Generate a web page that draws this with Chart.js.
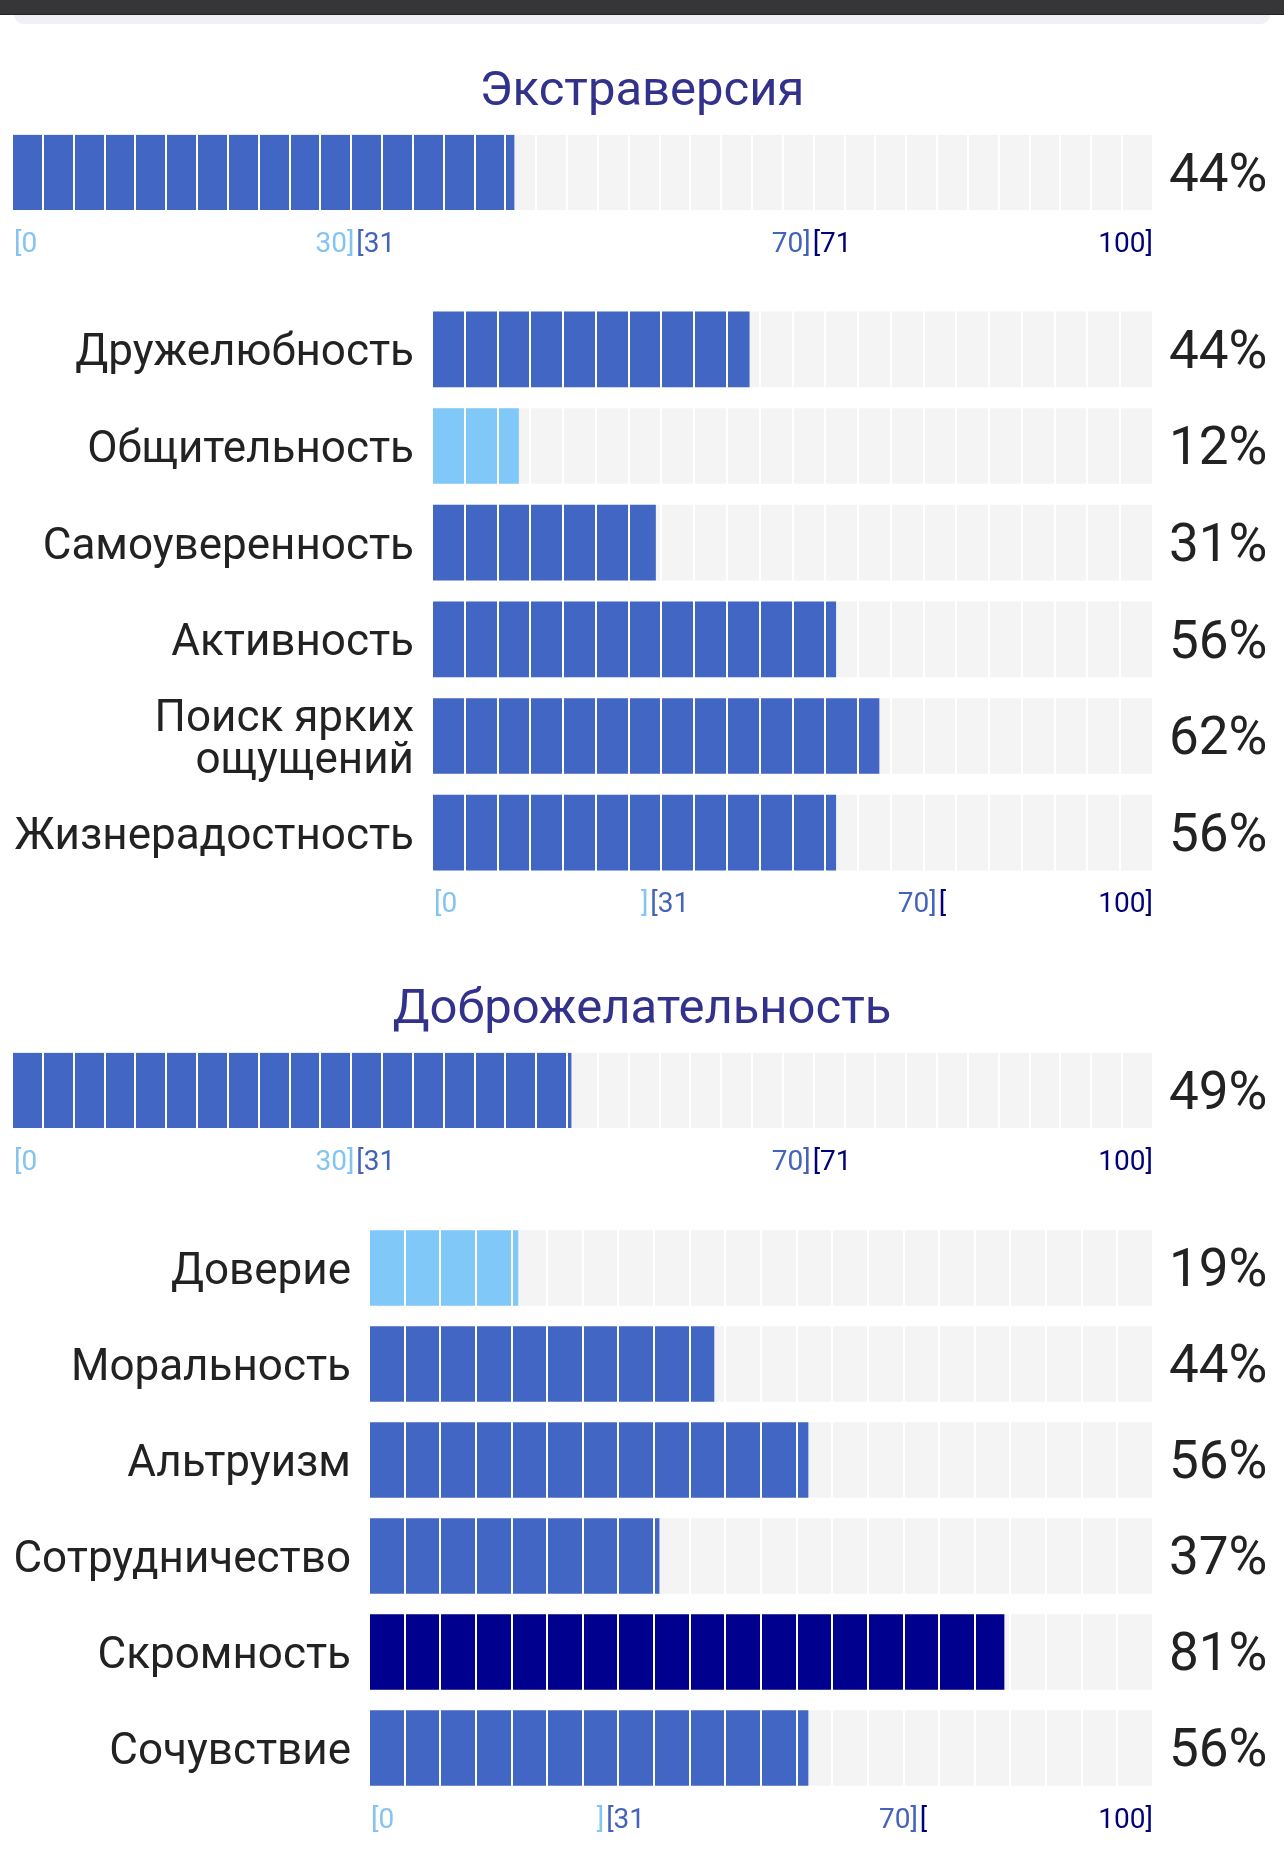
<!DOCTYPE html>
<html lang="ru">
<head>
<meta charset="utf-8">
<title>Экстраверсия и Доброжелательность</title>
<script src="https://cdn.jsdelivr.net/npm/chart.js@4.4.1/dist/chart.umd.min.js"></script>
<style>
  html, body { margin: 0; padding: 0; background: #fff; }
  body { width: 1284px; height: 1860px; position: relative; overflow: hidden; font-family: Roboto, sans-serif; }
  .topbar { position: absolute; left: 0; top: 0; width: 1284px; height: 14px; background: #363638; border-bottom: 1px solid #222; }
  .strip { position: absolute; left: 14px; top: 15px; width: 1256px; height: 9px; background: #f0f0f6; border-radius: 0 0 14px 14px; }
  .box { position: absolute; left: 0; width: 1284px; }
</style>
</head>
<body>
<div class="topbar"></div>
<div class="strip"></div>
<div class="box" style="top:30px;height:230px"><canvas id="extTotal"></canvas></div>
<div class="box" style="top:301px;height:630px"><canvas id="extFacets"></canvas></div>
<div class="box" style="top:948px;height:230px"><canvas id="agrTotal"></canvas></div>
<div class="box" style="top:1220px;height:626px"><canvas id="agrFacets"></canvas></div>
<script>
// данные
const extTitle = 'Экстраверсия';
const extTotal = [44];
const extFacets = ['Дружелюбность', 'Общительность', 'Самоуверенность', 'Активность', ['Поиск ярких', 'ощущений'], 'Жизнерадостность'];
const extValues = [44, 12, 31, 56, 62, 56];

const agrTitle = 'Доброжелательность';
const agrTotal = [49];
const agrFacets = ['Доверие', 'Моральность', 'Альтруизм', 'Сотрудничество', 'Скромность', 'Сочувствие'];
const agrValues = [19, 44, 56, 37, 81, 56];

// шкала: границы зон и подписи
const bandEdges = [0, 30, 70, 100];
const totalTickEnds = ['', '30]', '70]', '100]'];
const totalTickStarts = ['[0', '[31', '[71', ''];
const facetTickEnds = ['', ']', '70]', '100]'];
const facetTickStarts = ['[0', '[31', '[', ''];
const totalSegments = 37;
const facetSegments = 22;

const bandColors = ['#80c8f8', '#4266c4', '#00008e'];
const tickColors = ['#84c4f0', '#4464bc', '#00007a'];
const font = 'Roboto';

function bandOf(v) {
    return v <= 30 ? 0 : (v <= 70 ? 1 : 2);
}

const bracketPlugin = {
    id: 'brackets',
    afterDraw(chart, args, o) {
        const x = chart.scales.x;
        const ctx = chart.ctx;
        let bottom = 0;
        chart.getDatasetMeta(0).data.forEach((b) => {
            bottom = Math.max(bottom, b.y + b.height / 2);
        });
        const y = bottom + o.gap;
        ctx.save();
        ctx.font = '28px ' + font;
        ctx.textBaseline = 'middle';
        bandEdges.forEach((edge, i) => {
            const px = x.getPixelForValue(edge);
            if (o.ends[i]) {
                ctx.textAlign = 'right';
                ctx.fillStyle = tickColors[i - 1];
                ctx.fillText(o.ends[i], px, y);
            }
            if (o.starts[i]) {
                ctx.textAlign = 'left';
                ctx.fillStyle = tickColors[i];
                ctx.fillText(o.starts[i], px + 2, y);
            }
        });
        ctx.restore();
    }
};

function noPad(s, width) {
    s.width = width;
    s.paddingTop = 0;
    s.paddingBottom = 0;
}

function makeChart(id, cfg) {
    const track = cfg.values.map(() => 100);
    const hasNames = cfg.leftWidth > 12;
    return new Chart(document.getElementById(id), {
        type: 'bar',
        data: {
            labels: cfg.labels,
            datasets: [
                {
                    data: cfg.values,
                    backgroundColor: cfg.values.map((v) => bandColors[bandOf(v)]),
                    grouped: false,
                    order: 0,
                    barThickness: 75
                },
                {
                    data: track,
                    backgroundColor: '#f4f4f4',
                    grouped: false,
                    order: 1,
                    barThickness: 75
                }
            ]
        },
        options: {
            indexAxis: 'y',
            responsive: true,
            maintainAspectRatio: false,
            animation: false,
            events: [],
            layout: { padding: { left: 0, right: 0, top: 0, bottom: 50 } },
            plugins: {
                legend: { display: false },
                tooltip: { enabled: false },
                title: cfg.title ? {
                    display: true,
                    text: cfg.title,
                    color: '#32328c',
                    font: { family: font, size: 49, weight: 'normal' },
                    padding: { top: 33, bottom: 13 }
                } : { display: false },
                brackets: { ends: cfg.ends, starts: cfg.starts, gap: 35 }
            },
            scales: {
                x: {
                    min: 0,
                    max: 100,
                    border: { display: false },
                    ticks: { display: false },
                    grid: { color: '#ffffff', lineWidth: 2, drawTicks: false, z: 1 },
                    afterBuildTicks: (s) => {
                        s.ticks = Array.from({ length: cfg.segments + 1 }, (_, i) => ({ value: i * 100 / cfg.segments }));
                    },
                    afterFit: (s) => { s.height = 0; }
                },
                y: {
                    border: { display: false },
                    grid: { display: false, drawTicks: false },
                    ticks: {
                        display: hasNames,
                        color: '#222',
                        padding: 18,
                        labelOffset: 5,
                        font: { family: font, size: 44, lineHeight: 0.95 }
                    },
                    afterFit: (s) => noPad(s, cfg.leftWidth)
                },
                y2: {
                    type: 'category',
                    position: 'right',
                    offset: true,
                    labels: cfg.values.map((v) => v + '%'),
                    border: { display: false },
                    grid: { display: false, drawTicks: false },
                    ticks: {
                        color: '#222',
                        padding: 16,
                        labelOffset: 5,
                        font: { family: font, size: 53 }
                    },
                    afterFit: (s) => noPad(s, 131)
                }
            }
        },
        plugins: [bracketPlugin]
    });
}

makeChart('extTotal', {
    labels: [extTitle], values: extTotal, title: extTitle, leftWidth: 12,
    segments: totalSegments, ends: totalTickEnds, starts: totalTickStarts
});
makeChart('extFacets', {
    labels: extFacets, values: extValues, leftWidth: 432,
    segments: facetSegments, ends: facetTickEnds, starts: facetTickStarts
});
makeChart('agrTotal', {
    labels: [agrTitle], values: agrTotal, title: agrTitle, leftWidth: 12,
    segments: totalSegments, ends: totalTickEnds, starts: totalTickStarts
});
makeChart('agrFacets', {
    labels: agrFacets, values: agrValues, leftWidth: 369,
    segments: facetSegments, ends: facetTickEnds, starts: facetTickStarts
});
</script>
</body>
</html>
